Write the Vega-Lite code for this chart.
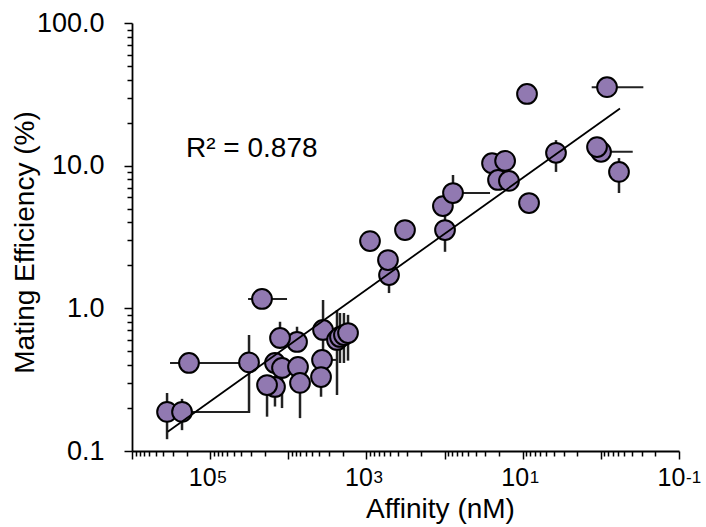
{
  "$schema": "https://vega.github.io/schema/vega-lite/v6.json",
  "width": 547,
  "height": 428,
  "autosize": {"type": "none"},
  "padding": {"left": 132, "top": 23, "right": 27, "bottom": 76},
  "background": "white",
  "config": {
    "view": {"stroke": null},
    "font": "Liberation Sans",
    "axis": {
      "labelFont": "Liberation Sans",
      "titleFont": "Liberation Sans",
      "labelColor": "black",
      "titleColor": "black",
      "domainColor": "black",
      "tickColor": "black",
      "domainWidth": 1.8,
      "tickWidth": 1.5,
      "grid": false,
      "labelFontSize": 27,
      "titleFontSize": 28,
      "titleFontWeight": "normal",
      "labelOverlap": false,
      "labelFlush": false,
      "labelBound": false
    }
  },
  "datasets": {
    "pts": [
      {"a": 356000, "e": 0.188, "eLo": 0.121, "eHi": 0.255},
      {"a": 229000, "e": 0.188, "eLo": 0.14, "eHi": 0.232, "aLo": 30900, "aHi": 250000},
      {"a": 186500, "e": 0.414, "aLo": 41500, "aHi": 326000},
      {"a": 31800, "e": 0.418, "eLo": 0.185, "eHi": 0.65},
      {"a": 21700, "e": 1.163, "aLo": 10380, "aHi": 32700},
      {"a": 7730, "e": 0.581, "eLo": 0.5, "eHi": 0.743},
      {"a": 12760, "e": 0.62, "eLo": 0.52, "eHi": 0.805},
      {"a": 3590, "e": 0.705, "eLo": 0.5, "eHi": 1.144},
      {"a": 2380, "e": 0.6, "eLo": 0.247, "eHi": 0.973},
      {"a": 2180, "e": 0.63, "eLo": 0.414, "eHi": 0.927},
      {"a": 1940, "e": 0.65, "eLo": 0.414, "eHi": 0.927},
      {"a": 1720, "e": 0.671, "eLo": 0.43, "eHi": 0.9},
      {"a": 14800, "e": 0.414},
      {"a": 12030, "e": 0.382, "eLo": 0.2, "eHi": 0.45},
      {"a": 7510, "e": 0.388},
      {"a": 3700, "e": 0.435, "aLo": 2400, "aHi": 4000},
      {"a": 14800, "e": 0.281, "eLo": 0.205, "eHi": 0.33},
      {"a": 18700, "e": 0.29, "eLo": 0.174, "eHi": 0.34},
      {"a": 7080, "e": 0.3, "eLo": 0.17, "eHi": 0.36},
      {"a": 3810, "e": 0.33, "eLo": 0.24, "eHi": 0.38},
      {"a": 900, "e": 2.96},
      {"a": 321, "e": 3.54},
      {"a": 514, "e": 1.71, "eLo": 1.28, "eHi": 2.0},
      {"a": 530, "e": 2.18},
      {"a": 98.7, "e": 3.54, "eLo": 2.49, "eHi": 4.5},
      {"a": 105, "e": 5.21},
      {"a": 78, "e": 6.43, "aLo": 26.2, "aHi": 100, "eLo": 5.4, "eHi": 8.6},
      {"a": 8.81, "e": 31.8},
      {"a": 0.834, "e": 35.5, "aLo": 0.286, "aHi": 1.31},
      {"a": 24.7, "e": 10.4},
      {"a": 16.8, "e": 10.8},
      {"a": 20.7, "e": 7.94},
      {"a": 15.0, "e": 7.82},
      {"a": 8.3, "e": 5.47},
      {"a": 3.75, "e": 12.3, "eLo": 9.04, "eHi": 15.1},
      {"a": 0.995, "e": 12.5, "aLo": 0.391, "aHi": 1.1},
      {"a": 1.12, "e": 13.5},
      {"a": 0.586, "e": 9.04, "eLo": 6.43, "eHi": 11.3}
    ],
    "fit": [
      {"a": 349000, "e": 0.1365},
      {"a": 0.569, "e": 25.2}
    ],
    "note": [
      {"a": 203700, "e": 11.5, "label": "R² = 0.878"}
    ],
    "exps": [
      {"a": 100000, "e": 0.1, "t": "5"},
      {"a": 1000, "e": 0.1, "t": "3"},
      {"a": 10, "e": 0.1, "t": "1"},
      {"a": 0.1, "e": 0.1, "t": "-1"}
    ]
  },
  "layer": [
    {
      "data": {"name": "pts"},
      "transform": [{"filter": "isValid(datum.eLo)"}],
      "mark": {"type": "rule", "color": "#222222", "strokeWidth": 2.5},
      "encoding": {
        "x": {
          "field": "a",
          "type": "quantitative",
          "scale": {"type": "log", "domain": [0.1, 1000000], "reverse": true, "nice": false},
          "axis": {
            "orient": "bottom",
            "values": [0.1,0.2,0.3,0.4,0.5,0.6,0.7,0.8,0.9,1,2,3,4,5,6,7,8,9,10,20,30,40,50,60,70,80,90,100,200,300,400,500,600,700,800,900,1000,2000,3000,4000,5000,6000,7000,8000,9000,10000,20000,30000,40000,50000,60000,70000,80000,90000,100000,200000,300000,400000,500000,600000,700000,800000,900000,1000000],
            "labelExpr": "datum.value == 100000 || datum.value == 1000 || datum.value == 10 || datum.value == 0.1 ? '10' : ''",
            "labelFontSize": 25,
            "labelOffset": -8,
            "tickSize": {"condition": {"test": "indexof([0.1,1,10,100,1000,10000,100000,1000000], datum.value) >= 0", "value": 8}, "value": 5},
            "labelPadding": 6,
            "title": "Affinity (nM)",
            "titleX": 308,
            "titleY": 66,
            "titleAlign": "center",
            "titleBaseline": "alphabetic"
          }
        },
        "y": {
          "field": "eLo",
          "type": "quantitative",
          "scale": {"type": "log", "domain": [0.1, 100], "nice": false},
          "axis": {
            "orient": "left",
            "values": [0.1,0.2,0.3,0.4,0.5,0.6,0.7,0.8,0.9,1,2,3,4,5,6,7,8,9,10,20,30,40,50,60,70,80,90,100],
            "labelExpr": "datum.value == 100 ? '100.0' : datum.value == 10 ? '10.0' : datum.value == 1 ? '1.0' : datum.value == 0.1 ? '0.1' : ''",
            "tickSize": {"condition": {"test": "indexof([0.1,1,10,100], datum.value) >= 0", "value": 8}, "value": 5},
            "labelPadding": 20,
            "title": "Mating Efficiency (%)",
            "titleX": -98.5,
            "titleY": 219,
            "titleAngle": -90,
            "titleAlign": "center",
            "titleBaseline": "alphabetic"
          }
        },
        "y2": {"field": "eHi"}
      }
    },
    {
      "data": {"name": "pts"},
      "transform": [{"filter": "isValid(datum.aLo)"}],
      "mark": {"type": "rule", "color": "#222222", "strokeWidth": 2},
      "encoding": {
        "x": {"field": "aLo", "type": "quantitative"},
        "x2": {"field": "aHi"},
        "y": {"field": "e", "type": "quantitative"}
      }
    },
    {
      "data": {"name": "pts"},
      "mark": {"type": "point", "shape": "circle", "filled": true, "fill": "#9179b1", "stroke": "black", "strokeWidth": 2, "size": 390, "opacity": 1, "fillOpacity": 1},
      "encoding": {
        "x": {"field": "a", "type": "quantitative"},
        "y": {"field": "e", "type": "quantitative"}
      }
    },
    {
      "data": {"name": "fit"},
      "mark": {"type": "line", "color": "black", "strokeWidth": 1.8},
      "encoding": {
        "x": {"field": "a", "type": "quantitative"},
        "y": {"field": "e", "type": "quantitative"}
      }
    },
    {
      "data": {"name": "note"},
      "mark": {"type": "text", "align": "left", "baseline": "alphabetic", "fontSize": 28, "font": "Liberation Sans", "color": "black"},
      "encoding": {
        "x": {"field": "a", "type": "quantitative"},
        "y": {"field": "e", "type": "quantitative"},
        "text": {"field": "label"}
      }
    },
    {
      "data": {"name": "exps"},
      "mark": {"type": "text", "align": "left", "baseline": "top", "fontSize": 17, "font": "Liberation Sans", "color": "black", "dx": 7, "dy": 19},
      "encoding": {
        "x": {"field": "a", "type": "quantitative"},
        "y": {"field": "e", "type": "quantitative"},
        "text": {"field": "t"}
      }
    }
  ]
}
